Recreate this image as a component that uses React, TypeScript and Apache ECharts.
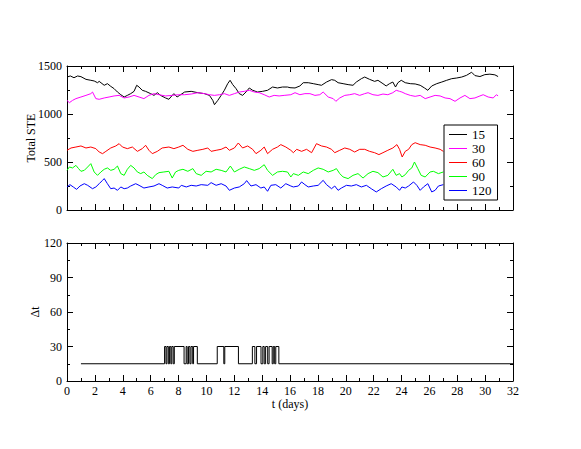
import React, { useEffect, useRef } from "react";
import * as echarts from "echarts";

// Total STE time series, [t (days), value]
const ste15: [number, number][] = [
  [0, 1385], [0.24, 1396], [0.5, 1378], [0.76, 1396], [1.0, 1389], [1.36, 1361], [1.71, 1351], [1.95, 1344],
  [2.19, 1326], [2.31, 1340], [2.67, 1299], [2.9, 1316], [3.14, 1288], [3.38, 1264], [3.62, 1229], [3.86, 1201],
  [4.1, 1177], [4.33, 1194], [4.57, 1212], [4.81, 1236], [5.0, 1299], [5.17, 1281], [5.4, 1247], [5.64, 1236],
  [6.0, 1212], [6.24, 1194], [6.48, 1222], [6.71, 1194], [7.07, 1167], [7.31, 1153], [7.55, 1194], [7.67, 1212],
  [7.9, 1177], [8.08, 1194], [8.44, 1229], [8.91, 1236], [9.39, 1222], [9.86, 1212], [10.22, 1194], [10.46, 1142],
  [10.58, 1097], [10.82, 1142], [11.06, 1194], [11.29, 1247], [11.53, 1316], [11.7, 1351], [11.89, 1306], [12.13, 1264],
  [12.36, 1212], [12.6, 1194], [12.84, 1229], [13.08, 1271], [13.32, 1247], [13.67, 1229], [14.03, 1236], [14.39, 1247],
  [14.75, 1281], [15.1, 1271], [15.46, 1281], [15.82, 1281], [16.0, 1274], [16.36, 1271], [16.71, 1292], [16.95, 1326],
  [17.31, 1326], [17.67, 1316], [18.02, 1306], [18.26, 1299], [18.62, 1333], [18.98, 1358], [19.21, 1351], [19.45, 1326],
  [19.81, 1316], [20.17, 1306], [20.52, 1299], [20.76, 1333], [21.12, 1368], [21.36, 1385], [21.71, 1361], [22.07, 1340],
  [22.31, 1351], [22.67, 1316], [22.9, 1292], [23.14, 1316], [23.38, 1333], [23.57, 1281], [23.74, 1326], [23.98, 1351],
  [24.27, 1326], [24.63, 1316], [24.98, 1313], [25.34, 1299], [25.65, 1271], [25.89, 1247], [26.17, 1292], [26.53, 1316],
  [26.89, 1333], [27.24, 1351], [27.6, 1368], [27.96, 1375], [28.32, 1385], [28.67, 1403], [29.03, 1435], [29.27, 1400],
  [29.63, 1390], [29.98, 1410], [30.34, 1415], [30.7, 1408], [30.93, 1390],
];

const ste30: [number, number][] = [
  [0, 1142], [0.17, 1118], [0.4, 1142], [0.64, 1160], [1.0, 1177], [1.36, 1194], [1.71, 1212], [1.83, 1229],
  [2.07, 1160], [2.31, 1153], [2.67, 1167], [3.02, 1177], [3.38, 1188], [3.74, 1194], [4.1, 1167], [4.45, 1177],
  [4.81, 1194], [5.17, 1177], [5.52, 1160], [5.88, 1194], [6.24, 1212], [6.6, 1201], [7.07, 1188], [7.55, 1194],
  [8.02, 1201], [8.44, 1201], [8.91, 1208], [9.39, 1222], [9.86, 1212], [10.22, 1201], [10.58, 1194], [10.94, 1201],
  [11.29, 1212], [11.65, 1194], [12.01, 1212], [12.36, 1229], [12.72, 1236], [13.08, 1247], [13.44, 1229], [13.79, 1222],
  [14.15, 1201], [14.51, 1177], [14.86, 1194], [15.22, 1188], [15.58, 1194], [16.06, 1201], [16.36, 1222], [16.71, 1201],
  [17.07, 1212], [17.43, 1212], [17.79, 1194], [18.14, 1201], [18.38, 1229], [18.74, 1177], [19.1, 1160], [19.29, 1132],
  [19.57, 1167], [19.93, 1194], [20.29, 1201], [20.64, 1212], [21.0, 1194], [21.36, 1212], [21.6, 1222], [21.95, 1201],
  [22.31, 1194], [22.67, 1208], [23.02, 1201], [23.38, 1222], [23.62, 1247], [23.86, 1236], [24.03, 1229], [24.27, 1212],
  [24.63, 1194], [24.98, 1184], [25.34, 1194], [25.7, 1160], [26.05, 1177], [26.41, 1194], [26.77, 1188], [27.13, 1167],
  [27.48, 1160], [27.84, 1132], [28.2, 1167], [28.55, 1194], [28.91, 1160], [29.27, 1167], [29.63, 1188], [29.86, 1201],
  [30.22, 1177], [30.58, 1167], [30.81, 1201], [30.93, 1188],
];

const ste60: [number, number][] = [
  [0, 622], [0.29, 646], [0.64, 656], [1.0, 667], [1.36, 646], [1.71, 656], [2.07, 639], [2.31, 604],
  [2.55, 587], [2.79, 611], [3.14, 646], [3.5, 667], [3.74, 691], [3.98, 656], [4.33, 639], [4.69, 656],
  [5.05, 611], [5.4, 639], [5.64, 674], [5.88, 622], [6.12, 587], [6.48, 611], [6.83, 646], [7.31, 656],
  [7.67, 639], [8.02, 656], [8.32, 674], [8.67, 632], [9.03, 611], [9.39, 622], [9.75, 632], [10.1, 646],
  [10.34, 611], [10.7, 622], [11.06, 632], [11.41, 656], [11.65, 622], [12.01, 646], [12.29, 698], [12.6, 646],
  [12.96, 667], [13.32, 632], [13.56, 587], [13.91, 622], [14.15, 656], [14.39, 587], [14.75, 632], [15.1, 656],
  [15.34, 681], [15.7, 656], [16.06, 622], [16.24, 597], [16.48, 632], [16.83, 611], [17.19, 632], [17.55, 597],
  [17.9, 691], [18.26, 667], [18.62, 656], [18.98, 632], [19.21, 597], [19.57, 622], [19.93, 646], [20.29, 632],
  [20.64, 604], [21.0, 632], [21.36, 632], [21.71, 611], [22.07, 597], [22.38, 577], [22.67, 597], [23.02, 622],
  [23.38, 646], [23.67, 681], [23.86, 632], [24.05, 552], [24.27, 611], [24.51, 632], [24.74, 681], [24.98, 701],
  [25.34, 681], [25.7, 674], [26.05, 656], [26.41, 646], [26.77, 632], [27.0, 611],
];

const ste90: [number, number][] = [
  [0, 413], [0.17, 448], [0.4, 438], [0.64, 465], [0.83, 431], [1.0, 403], [1.24, 413], [1.48, 448],
  [1.71, 483], [1.95, 396], [2.19, 361], [2.43, 396], [2.67, 424], [2.9, 438], [3.14, 413], [3.38, 424],
  [3.62, 458], [3.86, 379], [4.1, 361], [4.33, 424], [4.57, 465], [4.81, 438], [5.05, 396], [5.29, 379],
  [5.52, 396], [5.76, 361], [6.12, 327], [6.36, 368], [6.6, 389], [6.95, 396], [7.31, 403], [7.55, 333],
  [7.79, 396], [8.02, 413], [8.32, 424], [8.67, 403], [9.03, 431], [9.27, 379], [9.63, 361], [9.98, 403],
  [10.34, 396], [10.7, 424], [11.06, 413], [11.41, 396], [11.72, 458], [12.01, 396], [12.36, 424], [12.72, 448],
  [13.08, 431], [13.44, 413], [13.79, 431], [14.15, 472], [14.39, 413], [14.75, 361], [15.1, 396], [15.46, 403],
  [15.82, 396], [16.06, 344], [16.24, 379], [16.6, 361], [16.95, 396], [17.31, 379], [17.67, 413], [18.02, 438],
  [18.38, 424], [18.74, 396], [19.1, 413], [19.33, 431], [19.57, 379], [19.81, 344], [20.17, 327], [20.52, 361],
  [20.88, 379], [21.24, 333], [21.6, 379], [21.95, 403], [22.31, 389], [22.67, 344], [23.02, 361], [23.38, 424],
  [23.62, 361], [23.86, 379], [24.03, 344], [24.27, 368], [24.51, 413], [24.74, 438], [24.93, 500], [25.17, 431],
  [25.41, 361], [25.7, 344], [26.05, 396], [26.29, 403], [26.65, 379], [27.0, 396],
];

const ste120: [number, number][] = [
  [0, 240], [0.21, 264], [0.45, 240], [0.69, 215], [0.93, 250], [1.24, 274], [1.48, 257], [1.83, 222],
  [2.07, 240], [2.31, 274], [2.55, 309], [2.67, 327], [2.9, 274], [3.14, 222], [3.38, 229], [3.62, 205],
  [3.86, 240], [4.1, 222], [4.33, 229], [4.57, 250], [4.93, 274], [5.17, 257], [5.52, 229], [5.88, 240],
  [6.24, 250], [6.6, 274], [6.83, 257], [7.19, 229], [7.55, 240], [8.02, 229], [8.2, 257], [8.56, 240],
  [8.91, 257], [9.27, 250], [9.63, 264], [10.1, 257], [10.34, 285], [10.7, 257], [11.06, 274], [11.41, 250],
  [11.65, 205], [12.01, 229], [12.36, 240], [12.72, 274], [12.89, 306], [13.2, 250], [13.56, 264], [13.91, 229],
  [14.15, 240], [14.39, 195], [14.63, 257], [14.98, 264], [15.34, 229], [15.7, 274], [16.06, 250], [16.24, 240],
  [16.6, 250], [16.83, 292], [17.07, 264], [17.31, 240], [17.67, 250], [18.02, 257], [18.38, 309], [18.62, 264],
  [18.98, 222], [19.21, 250], [19.45, 205], [19.69, 229], [20.05, 257], [20.4, 250], [20.76, 264], [21.12, 240],
  [21.48, 257], [21.83, 222], [22.19, 188], [22.55, 222], [22.9, 250], [23.26, 274], [23.62, 240], [23.86, 205],
  [24.03, 240], [24.27, 229], [24.51, 250], [24.86, 292], [25.1, 257], [25.34, 205], [25.58, 240], [25.89, 274],
  [26.17, 188], [26.41, 205], [26.65, 250], [27.0, 264],
];

// Δt step changes: [t (days), new Δt]
const deltaT: [number, number][] = [
  [1, 15], [7.0, 30], [7.1, 15], [7.17, 30], [7.27, 15], [7.35, 30], [7.45, 15], [7.52, 30], [7.62, 15],
  [7.7, 30], [8.4, 15], [8.55, 30], [8.62, 15], [8.72, 30], [8.82, 15], [8.9, 30], [9.02, 15], [9.08, 30],
  [9.35, 15], [10.78, 30], [11.25, 15], [11.32, 30], [12.3, 15], [13.3, 30], [13.48, 15], [13.6, 30],
  [13.92, 15], [14.05, 30], [14.15, 15], [14.25, 30], [14.4, 15], [14.5, 30], [14.72, 15], [14.8, 30],
  [14.9, 15], [14.98, 30], [15.2, 15], [32, 15],
];

const seriesNames = ["15", "30", "60", "90", "120"];
const seriesColors = ["#000000", "#ff00ff", "#ff0000", "#00ff00", "#0000ff"];
const seriesData = [ste15, ste30, ste60, ste90, ste120];

const FONT = "'Liberation Serif', 'Times New Roman', serif";

export default function App() {
  const ref = useRef<HTMLDivElement>(null);
  useEffect(() => {
    if (!ref.current) return;
    const chart = echarts.init(ref.current, undefined, { renderer: "svg" });
    const axisLine = { show: true, onZero: false, lineStyle: { color: "#000", width: 1 } };
    const tick = { show: true, inside: true, length: 6, lineStyle: { color: "#000" } };
    const minor = { show: true, splitNumber: 2, length: 3, lineStyle: { color: "#000" } };
    const label = {
      color: "#000",
      fontFamily: FONT,
      fontSize: 12,
      formatter: (v: number) => String(v),
    };
    const nameStyle = { color: "#000", fontFamily: FONT, fontSize: 12 };
    const xBase = (gridIndex: number, position: string, showLabel: boolean) => ({
      type: "value",
      gridIndex,
      position,
      min: 0,
      max: 32,
      interval: 2,
      axisLine,
      axisTick: tick,
      minorTick: minor,
      splitLine: { show: false },
      axisLabel: { show: showLabel, margin: 4, ...label },
    });
    const yBase = (gridIndex: number, position: string, showLabel: boolean, max: number, interval: number) => ({
      type: "value",
      gridIndex,
      position,
      min: 0,
      max,
      interval,
      axisLine,
      axisTick: tick,
      minorTick: minor,
      splitLine: { show: false },
      axisLabel: { show: showLabel, margin: 5, ...label },
    });
    const option: any = {
      animation: false,
      backgroundColor: "#fff",
      grid: [
        { left: 67, top: 66, width: 446, height: 144 },
        { left: 67, top: 243, width: 446, height: 138 },
      ],
      xAxis: [
        xBase(0, "bottom", false),
        xBase(0, "top", false),
        {
          ...xBase(1, "bottom", true),
          name: "t (days)",
          nameLocation: "middle",
          nameGap: 17,
          nameMoveOverlap: false,
          nameTextStyle: nameStyle,
        },
        xBase(1, "top", false),
      ],
      yAxis: [
        {
          ...yBase(0, "left", true, 1500, 500),
          name: "Total STE",
          nameLocation: "middle",
          nameGap: 30,
          nameMoveOverlap: false,
          nameTextStyle: nameStyle,
        },
        yBase(0, "right", false, 1500, 500),
        {
          ...yBase(1, "left", true, 120, 30),
          name: "Δt",
          nameLocation: "middle",
          nameGap: 26,
          nameMoveOverlap: false,
          nameTextStyle: nameStyle,
        },
        yBase(1, "right", false, 120, 30),
      ],
      legend: {
        data: seriesNames.map((n) => ({ name: n, icon: "rect" })),
        orient: "vertical",
        left: 444,
        top: 125,
        itemWidth: 18,
        itemHeight: 1,
        itemGap: 1,
        padding: [3, 6, 3, 5],
        backgroundColor: "#fff",
        borderColor: "#000",
        borderWidth: 1,
        borderRadius: 0,
        textStyle: { color: "#000", fontFamily: FONT, fontSize: 13, lineHeight: 12 },
      },
      series: [
        ...seriesData.map((d, i) => ({
          name: seriesNames[i],
          type: "line",
          xAxisIndex: 0,
          yAxisIndex: 0,
          data: d,
          symbol: "none",
          lineStyle: { color: seriesColors[i], width: 1 },
          itemStyle: { color: seriesColors[i] },
          z: 2,
        })),
        {
          name: "dt",
          type: "line",
          xAxisIndex: 2,
          yAxisIndex: 2,
          data: deltaT,
          step: "end",
          symbol: "none",
          lineStyle: { color: "#000", width: 1 },
          itemStyle: { color: "#000" },
        },
      ],
    };
    chart.setOption(option);
    return () => chart.dispose();
  }, []);
  return (
    <div
      ref={ref}
      style={{ position: "fixed", left: 0, top: 0, width: 581, height: 449, background: "#fff" }}
    />
  );
}
